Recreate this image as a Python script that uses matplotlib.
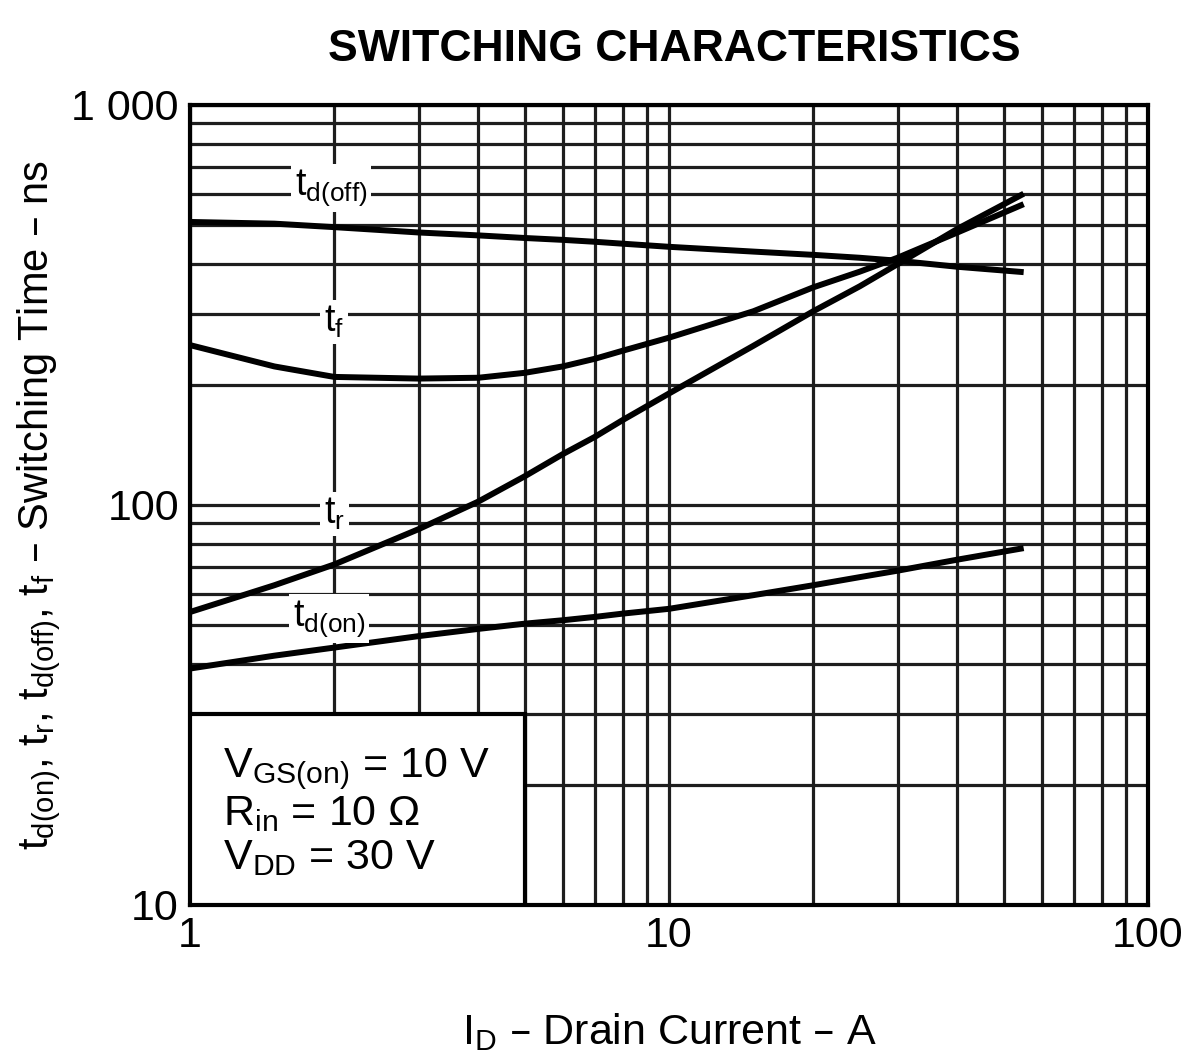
import matplotlib.pyplot as plt
from matplotlib.patches import Rectangle
from matplotlib.ticker import FixedLocator, NullFormatter

plt.rcParams['font.family'] = ['Liberation Sans', 'DejaVu Sans']
plt.rcParams['mathtext.default'] = 'regular'

# drain current (A)
i_d = [1, 1.5, 2, 3, 4, 5, 6, 7, 8, 10, 15, 20, 25, 30, 40, 55]

# switching times (ns)
t_d_off = [510, 505, 495, 480, 472, 465, 460, 455, 450, 442, 430, 422, 415, 408, 394, 382]
t_f = [251, 222, 209, 207, 208, 214, 222, 232, 243, 262, 305, 350, 383, 415, 480, 565]
t_r = [54, 63, 71, 87, 102, 118, 134, 148, 163, 190, 250, 305, 352, 400, 490, 600]
t_d_on = [39, 42, 44, 47, 49, 50.5, 51.5, 52.5, 53.5, 55, 59.5, 63, 66, 68.5, 73, 78]

series = [
    (t_d_off, r't$_{d(off)}$', (1.97, 620)),
    (t_f, r't$_f$', (2.0, 287)),
    (t_r, r't$_r$', (2.0, 95)),
    (t_d_on, r't$_{d(on)}$', (1.95, 52)),
]

conditions = ['V$_{GS(on)}$ = 10 V', 'R$_{in}$ = 10 Ω', 'V$_{DD}$ = 30 V']

fig = plt.figure(figsize=(11.99, 10.54), dpi=100)
ax = fig.add_axes([0.1585, 0.1414, 0.799, 0.759])
ax.set_xscale('log')
ax.set_yscale('log')
ax.set_xlim(1, 100)
ax.set_ylim(10, 1000)

# datasheet grid on every 1..9 multiple
grid_x = [m * d for d in (1, 10) for m in range(1, 10)] + [100]
grid_y = [m * d for d in (10, 100) for m in range(1, 10)] + [1000]
ax.xaxis.set_minor_locator(FixedLocator(grid_x))
ax.yaxis.set_minor_locator(FixedLocator(grid_y))
ax.xaxis.set_minor_formatter(NullFormatter())
ax.yaxis.set_minor_formatter(NullFormatter())
ax.grid(which='both', color='#1e1e1e', lw=2.3)
ax.set_axisbelow(True)

ax.set_xticks([1, 10, 100], ['1', '10', '100'])
ax.set_yticks([10, 100, 1000], ['10', '100', '1 000'])
ax.tick_params(which='both', length=0, labelsize=31, pad=8)

for vals, label, pos in series:
    ax.plot(i_d, vals, color='black', lw=4.3, solid_capstyle='butt', zorder=4)
    ax.text(pos[0], pos[1], label, fontsize=27, ha='center', va='center', zorder=5,
            bbox=dict(facecolor='white', edgecolor='none', pad=3))

# test conditions box
ax.add_patch(Rectangle((1, 10), 4, 20, facecolor='white', edgecolor='black', lw=3, zorder=3))
for k, line in enumerate(conditions):
    ax.text(1.17, 21.8 / (1.29 ** k), line, fontsize=31, ha='left', va='center', zorder=5)

for s in ax.spines.values():
    s.set_linewidth(3)

ax.set_title('SWITCHING CHARACTERISTICS', fontsize=32, fontweight='bold', pad=32, x=0.505)
ax.set_xlabel('I$_D$ – Drain Current – A', fontsize=31, labelpad=40)
ax.set_ylabel('t$_{d(on)}$, t$_r$, t$_{d(off)}$, t$_f$ – Switching Time – ns', fontsize=30, labelpad=6)

fig.savefig('out.png', dpi=100)
